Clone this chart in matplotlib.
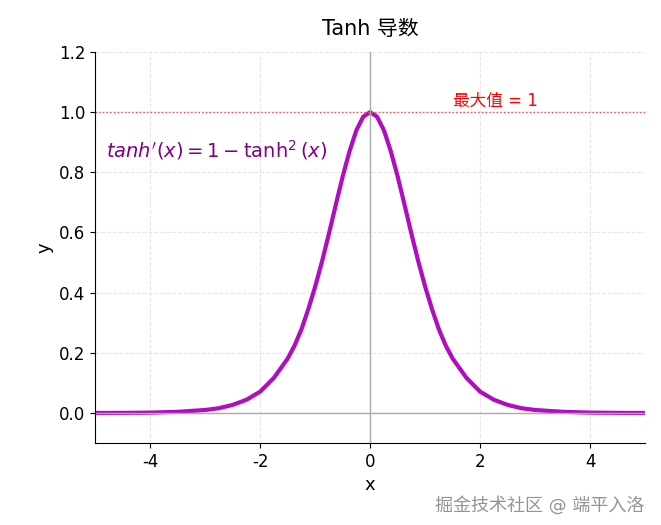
import numpy as np
import matplotlib
matplotlib.use('Agg')
import matplotlib.pyplot as plt

plt.rcParams['font.family'] = ['DejaVu Sans', 'Noto Sans CJK SC']
plt.rcParams['axes.unicode_minus'] = False

# values (symmetric about x = 0)
x_half = [0, 0.125, 0.25, 0.375, 0.5, 0.625, 0.75, 0.875, 1.0, 1.125, 1.25, 1.375, 1.5,
          1.75, 2.0, 2.25, 2.5, 2.75, 3.0, 3.5, 4.0, 4.5, 5.0]
y_half = [1.0, 0.985, 0.94, 0.870, 0.786, 0.692, 0.596, 0.504, 0.42, 0.345, 0.278, 0.224, 0.181,
          0.117, 0.071, 0.044, 0.027, 0.016, 0.010, 0.004, 0.0013, 0.0005, 0.0002]

xs = [-v for v in x_half[:0:-1]] + x_half
ys = y_half[:0:-1] + y_half

fig = plt.figure(figsize=(6.61, 5.25), dpi=100)
ax = fig.add_axes([0.144, 0.156, 0.832, 0.745])

ax.plot(xs, ys, color='#b00cc0', lw=3)
ax.axhline(0, color='#aaaaaa', lw=1)
ax.axvline(0, color='#aaaaaa', lw=1)
ax.axhline(1, color='#ff4444', lw=1, ls=':')
ax.text(1.5, 1.02, '最大值 = 1', color='red', fontsize=12)
ax.text(-4.8, 0.85, r"$tanh'(x) = 1 - \tanh^2(x)$", color='purple', fontsize=14)

ax.set_xlim(-5, 5)
ax.set_ylim(-0.1, 1.2)
ax.set_xticks([-4, -2, 0, 2, 4])
ax.set_xticklabels(['-4', '-2', '0', '2', '4'])
ax.set_yticks(np.arange(0, 1.21, 0.2))
ax.set_yticklabels(['0.0', '0.2', '0.4', '0.6', '0.8', '1.0', '1.2'])
ax.tick_params(labelsize=12)
ax.grid(True, ls='--', color='#e0e0e0', alpha=0.8)
ax.spines['top'].set_visible(False)
ax.spines['right'].set_visible(False)
ax.set_xlabel('x', fontsize=13)
ax.set_ylabel('y', fontsize=13)
ax.set_title('Tanh 导数', fontsize=15, pad=12)

fig.text(0.975, 0.02, '掘金技术社区 @ 端平入洛', ha='right', va='bottom',
         fontsize=13, color='#888888', alpha=0.9)

fig.savefig('out.png', dpi=100)
